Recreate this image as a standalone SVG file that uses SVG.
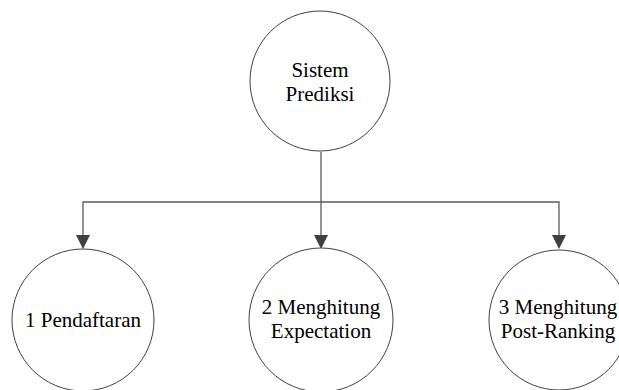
<svg xmlns="http://www.w3.org/2000/svg" width="619" height="390" viewBox="0 0 619 390">
<style>
.node{fill:#ffffff;stroke:#404040;stroke-width:1}
.lbl{font-family:"Liberation Serif","Times New Roman",serif;font-size:21px;fill:#000000;text-anchor:middle}
.conn{fill:none;stroke:#595959;stroke-width:1.3}
.head{fill:#404040;stroke:none}
</style>
<g id="connectors">
<path class="conn" d="M321,152 V236"/>
<path class="conn" d="M83,236 V202 H559 V236"/>
<polygon class="head" points="76,235 90,235 83,249"/>
<polygon class="head" points="314,235 328,235 321,249"/>
<polygon class="head" points="552,235 566,235 559,249"/>
</g>
<g id="node-sistem">
<circle class="node" cx="320" cy="81" r="70"/>
<text class="lbl" x="320" y="77">Sistem</text>
<text class="lbl" x="320" y="101">Prediksi</text>
</g>
<g id="node-1">
<circle class="node" cx="83" cy="320" r="71"/>
<text class="lbl" x="83" y="327">1 Pendaftaran</text>
</g>
<g id="node-2">
<circle class="node" cx="321" cy="320" r="72"/>
<text class="lbl" x="321" y="314">2 Menghitung</text>
<text class="lbl" x="321" y="338">Expectation</text>
</g>
<g id="node-3">
<circle class="node" cx="559" cy="320" r="70"/>
<text class="lbl" x="558" y="314">3 Menghitung</text>
<text class="lbl" x="558" y="338">Post-Ranking</text>
</g>
</svg>
